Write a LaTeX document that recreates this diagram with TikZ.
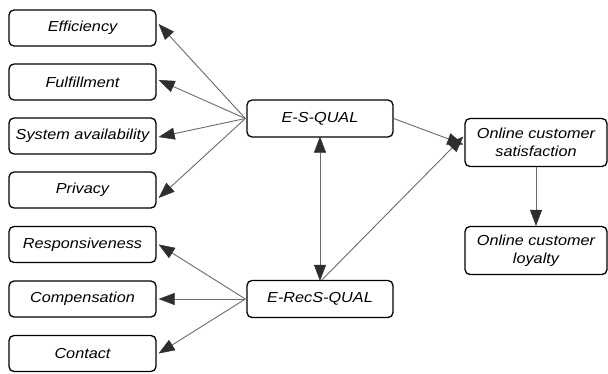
\documentclass[tikz,border=0pt]{standalone}
\usepackage{fontspec}
\setmainfont{Liberation Sans}[FakeStretch=1.12]
\usetikzlibrary{arrows.meta}
\definecolor{lineg}{HTML}{6A6A6A}
\definecolor{tipg}{HTML}{2E2E2E}
\tikzset{
  x=1pt,y=-1pt,
  box/.style={draw=black, line width=1.3pt, rounded corners=5pt, align=center,
    font=\fontsize{14.5}{18}\selectfont\itshape, inner sep=0pt},
  lbox/.style={box, minimum width=147pt, minimum height=36pt},
  cbox/.style={box, minimum width=146pt, minimum height=37pt},
  rbox/.style={box, minimum width=142pt, minimum height=48pt},
  tip/.tip={Triangle[length=16pt,width=12pt,fill=tipg,color=tipg,line width=0.5pt]},
  conn/.style={draw=lineg, line width=0.9pt, -tip},
  conn2/.style={draw=lineg, line width=0.9pt, tip-tip}
}
\begin{document}
\begin{tikzpicture}
\useasboundingbox (0,0) rectangle (608,374);
\node[lbox] (eff) at (82.5,28) {Efficiency};
\node[lbox] (ful) at (82.5,82) {Fulfillment};
\node[lbox] (sys) at (82.5,136) {System availability};
\node[lbox] (pri) at (82.5,190) {Privacy};
\node[lbox] (res) at (82.5,244.5) {Responsiveness};
\node[lbox] (com) at (82.5,299) {Compensation};
\node[lbox] (con) at (82.5,353.5) {Contact};
\node[cbox] (esq) at (320,118.5) {E-S-QUAL};
\node[cbox] (erq) at (320,299) {E-RecS-QUAL};
\node[rbox] (sat) at (536,142.5) {Online customer\\satisfaction};
\node[rbox] (loy) at (536,250.5) {Online customer\\loyalty};
\coordinate (esqw) at ([xshift=-1pt]esq.west);
\coordinate (erqw) at ([xshift=-1pt]erq.west);
\foreach \t/\dy in {eff/4,ful/2,sys/-1,pri/-8}{
  \draw[conn] (esqw) -- ([xshift=2pt,yshift=\dy pt]\t.east);
}
\foreach \t/\dy in {res/0,com/0,con/0}{
  \draw[conn] (erqw) -- ([xshift=2pt,yshift=\dy pt]\t.east);
}
\draw[conn2] ([yshift=1pt]esq.south) -- ([yshift=-1pt]erq.north);
\draw[conn] (esq.east) -- ([xshift=-1pt,yshift=-2pt]sat.west);
\draw[conn] ([xshift=2pt]erq.north) -- ([xshift=-1pt,yshift=6pt]sat.west);
\draw[conn] (sat.south) -- (loy.north);
\end{tikzpicture}
\end{document}
